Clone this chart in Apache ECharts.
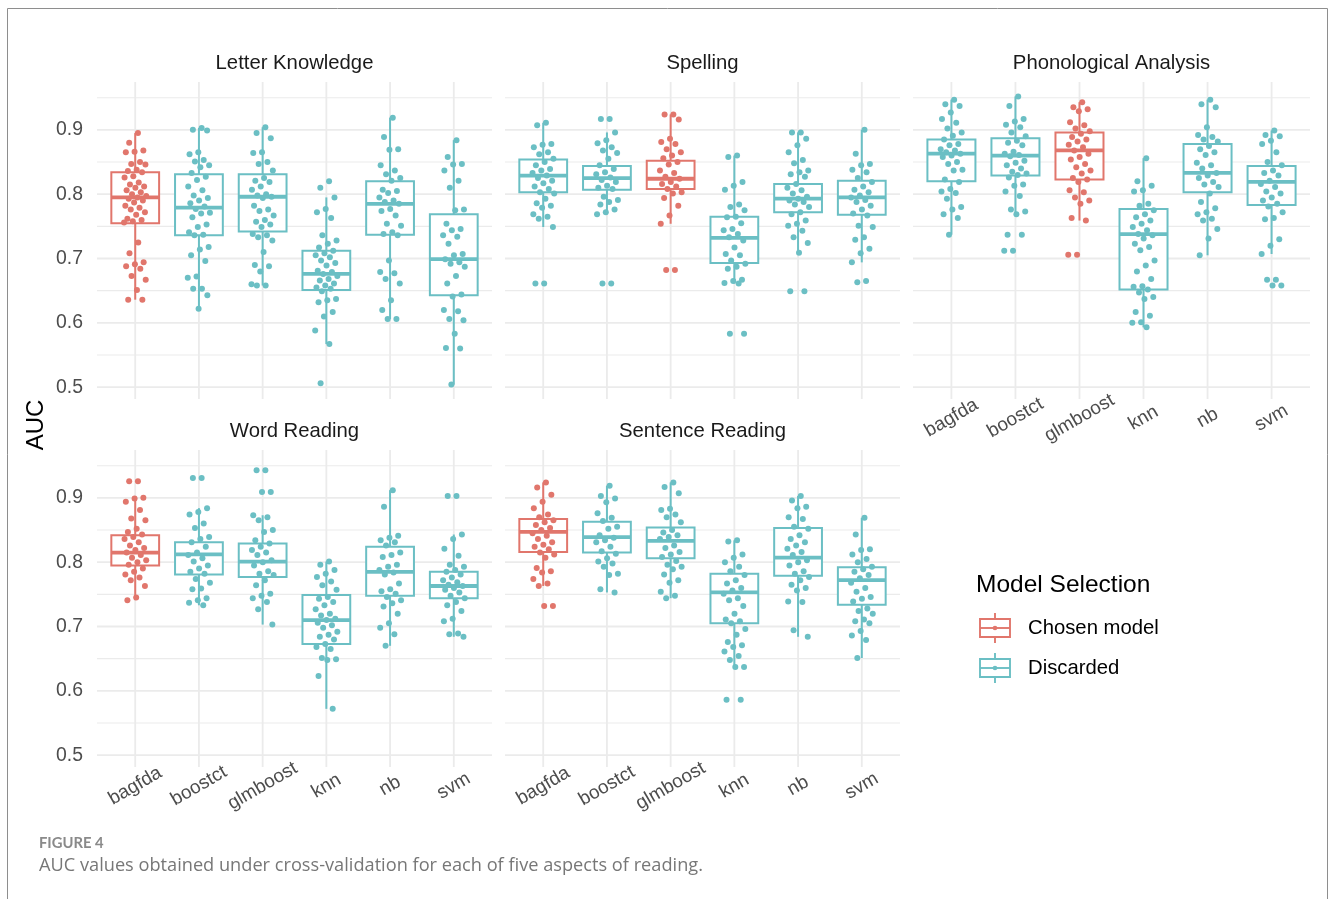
<!DOCTYPE html>
<html>
<head>
<meta charset="utf-8">
<title>AUC by model and reading aspect</title>
<script src="https://cdn.jsdelivr.net/npm/echarts@6.0.0/dist/echarts.min.js"></script>
<style>
  html, body { margin: 0; padding: 0; background: #ffffff; }
  #chart { width: 1332px; height: 899px; }
</style>
</head>
<body>
<div id="chart"></div>
<script>
// ---- data -------------------------------------------------------------
const models = ['bagfda', 'boostct', 'glmboost', 'knn', 'nb', 'svm'];
const facetTitles = ['Letter Knowledge', 'Spelling', 'Phonological Analysis', 'Word Reading', 'Sentence Reading'];
const chosenModel = ['bagfda', 'glmboost', 'glmboost', 'bagfda', 'bagfda'];
const yTicks = [0.5, 0.6, 0.7, 0.8, 0.9];
const yMinorTicks = [0.55, 0.65, 0.75, 0.85, 0.95];
const legendLabels = ['Chosen model', 'Discarded'];

// box statistics per model: [lower whisker, Q1, median, Q3, upper whisker]
const letterKnowledgeBoxes = [
  [0.636, 0.755, 0.795, 0.834, 0.895],
  [0.622, 0.736, 0.779, 0.831, 0.903],
  [0.658, 0.742, 0.796, 0.831, 0.904],
  [0.567, 0.651, 0.676, 0.712, 0.795],
  [0.606, 0.737, 0.785, 0.820, 0.919],
  [0.504, 0.643, 0.699, 0.769, 0.884]
];
const spellingBoxes = [
  [0.749, 0.803, 0.829, 0.854, 0.911],
  [0.769, 0.807, 0.825, 0.844, 0.896],
  [0.754, 0.808, 0.824, 0.852, 0.924],
  [0.661, 0.693, 0.732, 0.765, 0.860],
  [0.709, 0.772, 0.793, 0.816, 0.896],
  [0.694, 0.768, 0.795, 0.821, 0.900]
];
const phonologicalBoxes = [
  [0.737, 0.820, 0.863, 0.885, 0.947],
  [0.769, 0.829, 0.860, 0.887, 0.952],
  [0.759, 0.823, 0.868, 0.896, 0.943],
  [0.593, 0.652, 0.738, 0.777, 0.856],
  [0.705, 0.803, 0.833, 0.878, 0.947],
  [0.707, 0.783, 0.819, 0.844, 0.899]
];
const wordReadingBoxes = [
  [0.741, 0.795, 0.815, 0.842, 0.900],
  [0.733, 0.781, 0.812, 0.831, 0.884],
  [0.703, 0.777, 0.801, 0.829, 0.873],
  [0.572, 0.673, 0.710, 0.749, 0.801],
  [0.670, 0.748, 0.785, 0.824, 0.912],
  [0.684, 0.744, 0.763, 0.785, 0.843]
];
const sentenceReadingBoxes = [
  [0.763, 0.816, 0.847, 0.867, 0.924],
  [0.753, 0.815, 0.839, 0.863, 0.919],
  [0.744, 0.806, 0.833, 0.854, 0.924],
  [0.637, 0.705, 0.753, 0.782, 0.834],
  [0.684, 0.779, 0.807, 0.853, 0.903],
  [0.651, 0.734, 0.772, 0.792, 0.869]
];

// AUC of every cross-validation resample, per model
const letterKnowledgePoints = [
  [0.895,0.880,0.868,0.866,0.865,0.850,0.847,0.846,0.838,0.836,0.834,0.828,0.826,0.818,0.815,0.812,0.810,0.806,0.803,0.800,0.797,0.795,0.793,0.790,0.787,0.782,0.779,0.776,0.772,0.768,0.762,0.760,0.758,0.756,0.725,0.708,0.694,0.691,0.688,0.684,0.673,0.667,0.651,0.636,0.636],
  [0.903,0.900,0.899,0.865,0.862,0.853,0.851,0.845,0.842,0.833,0.827,0.822,0.812,0.806,0.798,0.794,0.790,0.786,0.781,0.777,0.771,0.770,0.764,0.753,0.749,0.741,0.737,0.736,0.718,0.714,0.705,0.696,0.672,0.670,0.653,0.653,0.643,0.622],
  [0.904,0.895,0.887,0.865,0.864,0.850,0.847,0.837,0.825,0.821,0.819,0.812,0.807,0.800,0.798,0.796,0.794,0.782,0.776,0.774,0.767,0.760,0.757,0.753,0.749,0.738,0.736,0.733,0.728,0.710,0.690,0.688,0.680,0.660,0.658,0.658],
  [0.820,0.810,0.795,0.777,0.772,0.763,0.736,0.728,0.723,0.717,0.712,0.708,0.705,0.702,0.697,0.693,0.689,0.681,0.679,0.676,0.673,0.668,0.666,0.661,0.658,0.655,0.653,0.649,0.637,0.635,0.632,0.617,0.610,0.588,0.567,0.506],
  [0.919,0.889,0.870,0.869,0.845,0.837,0.831,0.825,0.821,0.807,0.805,0.802,0.795,0.790,0.788,0.785,0.777,0.774,0.767,0.754,0.751,0.741,0.738,0.736,0.697,0.679,0.677,0.668,0.661,0.635,0.620,0.606,0.606],
  [0.884,0.858,0.847,0.846,0.837,0.821,0.810,0.776,0.775,0.754,0.746,0.744,0.736,0.734,0.723,0.707,0.705,0.699,0.694,0.692,0.687,0.673,0.661,0.644,0.641,0.620,0.618,0.606,0.604,0.583,0.561,0.560,0.504]
];
const spellingPoints = [
  [0.911,0.907,0.878,0.877,0.873,0.865,0.862,0.855,0.850,0.845,0.839,0.837,0.833,0.829,0.825,0.821,0.817,0.812,0.808,0.803,0.801,0.793,0.786,0.782,0.779,0.769,0.765,0.762,0.749,0.661,0.661],
  [0.917,0.917,0.896,0.884,0.879,0.873,0.868,0.864,0.855,0.845,0.839,0.834,0.831,0.826,0.822,0.819,0.813,0.810,0.808,0.796,0.791,0.788,0.784,0.776,0.772,0.769,0.661,0.661],
  [0.924,0.924,0.916,0.886,0.881,0.878,0.870,0.865,0.860,0.856,0.850,0.846,0.837,0.833,0.827,0.824,0.819,0.816,0.812,0.808,0.803,0.801,0.794,0.782,0.767,0.754,0.682,0.682],
  [0.860,0.858,0.819,0.813,0.807,0.784,0.780,0.775,0.765,0.764,0.755,0.746,0.744,0.738,0.733,0.728,0.717,0.707,0.705,0.697,0.692,0.687,0.684,0.667,0.665,0.662,0.661,0.583,0.583],
  [0.896,0.896,0.886,0.876,0.865,0.853,0.848,0.837,0.834,0.831,0.827,0.816,0.810,0.806,0.801,0.796,0.793,0.790,0.788,0.784,0.780,0.772,0.769,0.759,0.754,0.751,0.743,0.733,0.724,0.709,0.649,0.649],
  [0.900,0.863,0.847,0.845,0.838,0.834,0.825,0.819,0.812,0.807,0.803,0.798,0.795,0.791,0.788,0.782,0.776,0.770,0.767,0.751,0.749,0.733,0.729,0.715,0.708,0.694,0.665,0.663]
];
const phonologicalPoints = [
  [0.947,0.940,0.937,0.927,0.917,0.911,0.902,0.896,0.891,0.885,0.878,0.876,0.870,0.868,0.865,0.863,0.860,0.858,0.850,0.847,0.838,0.837,0.823,0.819,0.808,0.804,0.802,0.793,0.780,0.776,0.769,0.763,0.737],
  [0.952,0.937,0.917,0.913,0.908,0.904,0.896,0.890,0.883,0.880,0.876,0.866,0.863,0.861,0.859,0.852,0.849,0.845,0.840,0.835,0.832,0.830,0.826,0.815,0.813,0.804,0.797,0.776,0.773,0.769,0.737,0.737,0.712,0.712],
  [0.943,0.935,0.932,0.929,0.912,0.907,0.902,0.898,0.894,0.889,0.885,0.882,0.877,0.873,0.868,0.863,0.858,0.854,0.847,0.842,0.837,0.832,0.825,0.823,0.819,0.806,0.803,0.795,0.790,0.785,0.763,0.759,0.706,0.706],
  [0.856,0.820,0.813,0.806,0.804,0.785,0.782,0.775,0.769,0.764,0.759,0.754,0.749,0.744,0.738,0.736,0.731,0.723,0.718,0.713,0.697,0.689,0.680,0.668,0.657,0.656,0.652,0.647,0.640,0.637,0.617,0.611,0.601,0.600,0.593],
  [0.947,0.940,0.935,0.904,0.892,0.889,0.885,0.882,0.875,0.870,0.865,0.861,0.849,0.845,0.840,0.833,0.829,0.825,0.819,0.815,0.811,0.801,0.788,0.778,0.772,0.769,0.762,0.759,0.746,0.731,0.705],
  [0.899,0.892,0.890,0.883,0.878,0.865,0.850,0.845,0.837,0.833,0.829,0.821,0.816,0.811,0.804,0.801,0.795,0.790,0.785,0.781,0.772,0.763,0.761,0.730,0.720,0.707,0.667,0.667,0.658,0.658]
];
const wordReadingPoints = [
  [0.926,0.926,0.900,0.899,0.894,0.881,0.868,0.865,0.852,0.847,0.843,0.839,0.836,0.831,0.826,0.822,0.819,0.815,0.811,0.807,0.803,0.800,0.796,0.790,0.785,0.781,0.776,0.772,0.763,0.745,0.741],
  [0.931,0.931,0.884,0.878,0.874,0.860,0.853,0.839,0.836,0.831,0.824,0.815,0.811,0.806,0.801,0.795,0.790,0.785,0.782,0.774,0.768,0.759,0.758,0.744,0.741,0.737,0.733],
  [0.943,0.943,0.909,0.909,0.873,0.870,0.865,0.850,0.847,0.834,0.829,0.824,0.819,0.815,0.811,0.803,0.800,0.795,0.786,0.782,0.780,0.772,0.764,0.751,0.748,0.744,0.738,0.727,0.703],
  [0.801,0.796,0.788,0.782,0.777,0.770,0.764,0.757,0.746,0.743,0.738,0.733,0.727,0.720,0.717,0.712,0.710,0.706,0.702,0.698,0.692,0.687,0.684,0.680,0.673,0.668,0.665,0.651,0.649,0.648,0.623,0.572],
  [0.912,0.886,0.841,0.838,0.834,0.831,0.826,0.815,0.811,0.808,0.796,0.793,0.788,0.784,0.781,0.767,0.758,0.755,0.751,0.746,0.741,0.736,0.731,0.720,0.705,0.698,0.688,0.670],
  [0.903,0.903,0.843,0.836,0.821,0.810,0.796,0.793,0.788,0.785,0.781,0.776,0.772,0.769,0.765,0.763,0.760,0.757,0.753,0.748,0.744,0.738,0.733,0.724,0.712,0.708,0.689,0.688,0.684]
];
const sentenceReadingPoints = [
  [0.924,0.916,0.905,0.894,0.884,0.874,0.870,0.865,0.862,0.858,0.853,0.850,0.845,0.841,0.836,0.831,0.827,0.824,0.820,0.815,0.812,0.807,0.791,0.786,0.784,0.774,0.767,0.763,0.732,0.732],
  [0.919,0.903,0.899,0.893,0.876,0.869,0.864,0.855,0.852,0.842,0.838,0.834,0.831,0.824,0.817,0.813,0.806,0.801,0.798,0.793,0.782,0.780,0.758,0.753],
  [0.924,0.917,0.907,0.883,0.881,0.874,0.870,0.862,0.850,0.846,0.842,0.839,0.836,0.826,0.822,0.816,0.812,0.808,0.802,0.796,0.793,0.789,0.781,0.772,0.768,0.754,0.748,0.744],
  [0.834,0.832,0.812,0.807,0.800,0.793,0.786,0.780,0.772,0.767,0.760,0.756,0.751,0.744,0.741,0.732,0.720,0.711,0.708,0.705,0.696,0.687,0.676,0.671,0.668,0.661,0.654,0.648,0.637,0.637,0.586,0.586],
  [0.903,0.896,0.886,0.884,0.870,0.867,0.855,0.852,0.842,0.836,0.831,0.826,0.821,0.816,0.811,0.803,0.800,0.795,0.786,0.782,0.777,0.772,0.765,0.760,0.756,0.739,0.738,0.694,0.684],
  [0.869,0.843,0.820,0.819,0.812,0.805,0.800,0.793,0.789,0.785,0.780,0.775,0.768,0.760,0.754,0.746,0.743,0.739,0.728,0.724,0.720,0.711,0.708,0.705,0.693,0.686,0.679,0.651]
];

const facetBoxes = [letterKnowledgeBoxes, spellingBoxes, phonologicalBoxes, wordReadingBoxes, sentenceReadingBoxes];
const facetPoints = [letterKnowledgePoints, spellingPoints, phonologicalPoints, wordReadingPoints, sentenceReadingPoints];

// ---- layout & style ---------------------------------------------------
const RED = '#E1766C';
const TEAL = '#6BBFC4';
const GRID_COLOR = '#EBEBEB';
const TEXT_DARK = '#4D4D4D';
const FONT = '"Liberation Sans", Arial, sans-serif';
const Y_MIN = 0.4816, Y_MAX = 0.9744;
const X_MIN = -0.6, X_MAX = 5.6;
const BOX_HALF = 0.375;
const JITTER = 0.18;

const panels = [
  { left: 97,  top: 82,  width: 395, xLabels: false, yLabels: true  },
  { left: 505, top: 82,  width: 395, xLabels: false, yLabels: false },
  { left: 913, top: 82,  width: 397, xLabels: true,  yLabels: false },
  { left: 97,  top: 450, width: 395, xLabels: true,  yLabels: true  },
  { left: 505, top: 450, width: 395, xLabels: true,  yLabels: false }
];
const PANEL_H = 317;

// spread points horizontally around their model position (deterministic)
function jitter(j) {
  return (((j + 1) * 0.6180339887) % 1 - 0.5) * 2 * JITTER;
}

const grids = [], xAxes = [], yAxes = [], series = [];

panels.forEach((p, f) => {
  grids.push({ left: p.left, top: p.top, width: p.width, height: PANEL_H, containLabel: false });
  xAxes.push({
    type: 'value', gridIndex: f, min: X_MIN, max: X_MAX,
    axisLine: { show: false }, axisTick: { show: false }, splitLine: { show: false },
    axisLabel: {
      show: p.xLabels,
      customValues: models.map((m, i) => i),
      formatter: v => models[Math.round(v)],
      rotate: 30, align: 'center', verticalAlign: 'middle', margin: 19,
      fontSize: 19, color: TEXT_DARK, fontFamily: FONT
    }
  });
  yAxes.push({
    type: 'value', gridIndex: f, min: Y_MIN, max: Y_MAX,
    axisLine: { show: false }, axisTick: { show: false }, splitLine: { show: false },
    axisLabel: {
      show: p.yLabels,
      customValues: yTicks,
      formatter: v => v.toFixed(1),
      margin: 14, fontSize: 19.4, color: TEXT_DARK, fontFamily: FONT
    }
  });

  // panel grid lines: [kind, value]  kind 0 = major horizontal, 1 = minor horizontal, 2 = vertical
  const gridData = []
    .concat(yMinorTicks.map(v => [1, v]))
    .concat(yTicks.map(v => [0, v]))
    .concat(models.map((m, i) => [2, i]));
  series.push({
    type: 'custom', xAxisIndex: f, yAxisIndex: f, silent: true, animation: false, z: 1,
    data: gridData,
    renderItem: (params, api) => {
      const kind = api.value(0), v = api.value(1);
      let a, b;
      if (kind === 2) { a = api.coord([v, Y_MIN]); b = api.coord([v, Y_MAX]); }
      else { a = api.coord([X_MIN, v]); b = api.coord([X_MAX, v]); }
      return {
        type: 'line',
        shape: { x1: a[0], y1: a[1], x2: b[0], y2: b[1] },
        style: { stroke: GRID_COLOR, lineWidth: kind === 1 ? 1.1 : 1.8 }
      };
    }
  });

  // boxes: [model index, lo, q1, median, q3, hi, chosen]
  const boxData = facetBoxes[f].map((b, i) => [i].concat(b, [models[i] === chosenModel[f] ? 1 : 0]));
  series.push({
    type: 'custom', xAxisIndex: f, yAxisIndex: f, silent: true, animation: false, z: 2,
    data: boxData,
    renderItem: (params, api) => {
      const x = api.value(0);
      const lo = api.value(1), q1 = api.value(2), md = api.value(3), q3 = api.value(4), hi = api.value(5);
      const color = api.value(6) ? RED : TEAL;
      const pLo = api.coord([x, lo]), pQ1 = api.coord([x, q1]);
      const pQ3 = api.coord([x, q3]), pHi = api.coord([x, hi]);
      const tl = api.coord([x - BOX_HALF, q3]), br = api.coord([x + BOX_HALF, q1]);
      const ml = api.coord([x - BOX_HALF, md]), mr = api.coord([x + BOX_HALF, md]);
      const lineStyle = { stroke: color, lineWidth: 2 };
      return {
        type: 'group',
        children: [
          { type: 'line', shape: { x1: pLo[0], y1: pLo[1], x2: pQ1[0], y2: pQ1[1] }, style: lineStyle },
          { type: 'line', shape: { x1: pQ3[0], y1: pQ3[1], x2: pHi[0], y2: pHi[1] }, style: lineStyle },
          { type: 'rect', shape: { x: tl[0], y: tl[1], width: br[0] - tl[0], height: br[1] - tl[1] },
            style: { fill: '#ffffff', stroke: color, lineWidth: 2 } },
          { type: 'line', shape: { x1: ml[0], y1: ml[1], x2: mr[0], y2: mr[1] },
            style: { stroke: color, lineWidth: 3.8 } }
        ]
      };
    }
  });

  // jittered resample points
  const chosenPts = [], otherPts = [];
  facetPoints[f].forEach((vals, i) => {
    const target = models[i] === chosenModel[f] ? chosenPts : otherPts;
    vals.forEach((v, j) => target.push([i + jitter(j), v]));
  });
  [[chosenPts, RED, legendLabels[0]], [otherPts, TEAL, legendLabels[1]]].forEach(([pts, color, name]) => {
    series.push({
      type: 'scatter', name: name, xAxisIndex: f, yAxisIndex: f, silent: true, animation: false, z: 3,
      symbol: 'circle', symbolSize: 6, data: pts,
      itemStyle: { color: color, opacity: 1 }
    });
  });
});

// ---- text & legend ----------------------------------------------------
const graphics = [];
// frame
graphics.push({ type: 'rect', silent: true, shape: { x: 7.5, y: 8.5, width: 1320, height: 1000 },
  style: { fill: 'none', stroke: '#8E8E8E', lineWidth: 1 } });
// facet strips
panels.forEach((p, f) => {
  graphics.push({ type: 'text', silent: true, x: p.left + p.width / 2, y: p.top - 19,
    style: { text: facetTitles[f], fontSize: 20.3, fontFamily: FONT, fill: '#1A1A1A',
      textAlign: 'center', textVerticalAlign: 'middle' } });
});
// y axis title
graphics.push({ type: 'text', silent: true, x: 36, y: 425, rotation: Math.PI / 2,
  style: { text: 'AUC', fontSize: 24, fontFamily: FONT, fill: '#000000',
    textAlign: 'center', textVerticalAlign: 'middle' } });
// legend
graphics.push({ type: 'text', silent: true, x: 976, y: 585,
  style: { text: 'Model Selection', fontSize: 24.5, fontFamily: FONT, fill: '#000000',
    textAlign: 'left', textVerticalAlign: 'middle' } });
[RED, TEAL].forEach((color, k) => {
  const cy = 628 + k * 40, cx = 995;
  graphics.push({ type: 'group', silent: true, children: [
    { type: 'line', shape: { x1: cx, y1: cy - 15, x2: cx, y2: cy - 9 }, style: { stroke: color, lineWidth: 1.9 } },
    { type: 'line', shape: { x1: cx, y1: cy + 9, x2: cx, y2: cy + 15 }, style: { stroke: color, lineWidth: 1.9 } },
    { type: 'rect', shape: { x: cx - 15, y: cy - 9, width: 30, height: 18 }, style: { fill: '#ffffff', stroke: color, lineWidth: 1.9 } },
    { type: 'line', shape: { x1: cx - 15, y1: cy, x2: cx + 15, y2: cy }, style: { stroke: color, lineWidth: 1.9 } },
    { type: 'circle', shape: { cx: cx, cy: cy, r: 2.3 }, style: { fill: color } }
  ] });
  graphics.push({ type: 'text', silent: true, x: 1028, y: cy,
    style: { text: legendLabels[k], fontSize: 20.3, fontFamily: FONT, fill: '#000000',
      textAlign: 'left', textVerticalAlign: 'middle' } });
});
// caption
graphics.push({ type: 'text', silent: true, x: 39, y: 843,
  style: { text: 'FIGURE 4', fontSize: 14.8, fontWeight: 'bold', fontFamily: 'Lato, "Open Sans", sans-serif', fill: '#8A8A8A',
    textAlign: 'left', textVerticalAlign: 'middle' } });
graphics.push({ type: 'text', silent: true, x: 39, y: 866,
  style: { text: 'AUC values obtained under cross-validation for each of five aspects of reading.',
    fontSize: 18.2, fontFamily: '"Open Sans", Lato, sans-serif', fill: '#777777',
    textAlign: 'left', textVerticalAlign: 'middle' } });

const chart = echarts.init(document.getElementById('chart'), null, { renderer: 'canvas' });
chart.setOption({
  backgroundColor: '#ffffff',
  animation: false,
  grid: grids,
  xAxis: xAxes,
  yAxis: yAxes,
  series: series,
  graphic: { elements: graphics }
});
</script>
</body>
</html>
